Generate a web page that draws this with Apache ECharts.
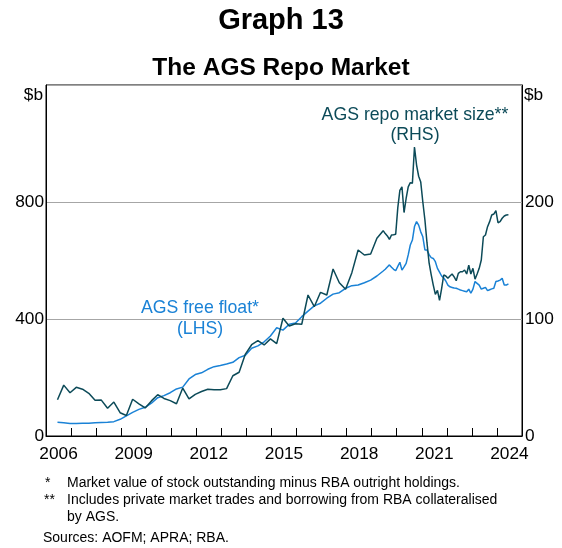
<!DOCTYPE html>
<html>
<head>
<meta charset="utf-8">
<script src="https://cdn.jsdelivr.net/npm/echarts@6/dist/echarts.min.js"></script>
<style>
html,body{margin:0;padding:0;background:#fff;}
#chart{width:562px;height:548px;}
</style>
</head>
<body>
<div id="chart"></div>
<script>
// Year labels (categories on the bottom axis)
const yearLabels = ['2006','2007','2008','2009','2010','2011','2012','2013','2014','2015','2016','2017','2018','2019','2020','2021','2022','2023','2024'];

// Observation dates: quarterly to mid-2019, monthly afterwards
const dates = [
 '2006-06','2006-09','2006-12','2007-03','2007-06','2007-09','2007-12','2008-03','2008-06','2008-09','2008-12',
 '2009-03','2009-06','2009-09','2009-12','2010-03','2010-06','2010-09','2010-12','2011-03','2011-06','2011-09','2011-12',
 '2012-03','2012-06','2012-09','2012-12','2013-03','2013-06','2013-09','2013-12','2014-03','2014-06','2014-09','2014-12',
 '2015-03','2015-06','2015-09','2015-12','2016-03','2016-06','2016-09','2016-12','2017-03','2017-06','2017-09','2017-12',
 '2018-03','2018-06','2018-09','2018-12','2019-03','2019-06',
 '2019-07','2019-08','2019-09','2019-10','2019-11','2019-12',
 '2020-01','2020-02','2020-03','2020-04','2020-05','2020-06','2020-07','2020-08','2020-09','2020-10','2020-11','2020-12',
 '2021-01','2021-02','2021-03','2021-04','2021-05','2021-06','2021-07','2021-08','2021-09','2021-10','2021-11','2021-12',
 '2022-01','2022-02','2022-03','2022-04','2022-05','2022-06','2022-07','2022-08','2022-09','2022-10','2022-11','2022-12',
 '2023-01','2023-02','2023-03','2023-04','2023-05','2023-06','2023-07','2023-08','2023-09','2023-10','2023-11','2023-12',
 '2024-01','2024-02','2024-03','2024-04','2024-05','2024-06'
];

// AGS free float, $b (LHS)
const freeFloat = [
 47,45,43,43,44,44,45,46,47,49,57,
 69,81,91,98,112,131,138,148,161,167,195,210,
 216,228,237,241,246,252,268,276,300,308,322,342,
 370,362,382,386,408,427,445,454,471,485,490,505,
 514,516,524,533,547,564,
 570,578,585,577,570,565,
 580,594,567,578,590,619,653,670,716,733,721,698,
 681,636,636,620,610,607,596,573,560,547,540,530,
 516,510,508,506,505,502,499,497,495,493,502,488,
 502,528,522,516,502,505,508,497,500,503,505,528,
 530,533,539,516,516,520
];

// AGS repo market size, $b (RHS)
const repoSize = [
 31,43.5,37,41.6,40,36.5,30.5,30.7,23.7,29,19.9,
 17.5,31.4,27.5,24,30,35.3,32.1,30.2,27.6,41,31.7,35.6,
 38,39.9,39.5,39.5,40.5,51.5,54.5,70,78,81.5,77.8,83,
 79,100.6,94,96,95.5,120.5,110.5,122.8,120.5,142.7,131,125.4,
 139.6,159,154.7,155.6,169,175.5,
 173,171,168,171.8,172,172.4,
 195,210,213,191,203,213,216.5,216,247,231.6,222,217,
 200,184.6,165,148,138,129,121,124.5,116,126,137.6,136.8,
 134.8,136.8,138.5,136,132.7,139,140.4,140.4,141.9,138.5,145.9,138.5,
 143.3,134,138.5,143.3,150.4,170.3,171.8,178.9,183.2,188.9,189.7,192.6,
 182.3,183.2,186.1,188,188.9,189
];

const leftTicks = [0, 400, 800, 1200];
const rightTicks = [0, 100, 200, 300];

function toYear(d){ const p = d.split('-'); return +p[0] + (+p[1] - 0.5)/12; }

const FONT = 'Arial, "Liberation Sans", sans-serif';
const DARK = '#0c4a58';
const BLUE = '#1a82d6';
const TICKFS = 17.3;
const NOTEFS = 14;
const ANNFS = 17.7;

const chart = echarts.init(document.getElementById('chart'), null, {renderer:'canvas'});
chart.setOption({
  animation:false,
  backgroundColor:'#fff',
  textStyle:{fontFamily:FONT},
  grid:{left:46, right:40, top:85, bottom:112, show:true, borderColor:'#000', borderWidth:1, containLabel:false},
  xAxis:[
    {type:'value', min:2006, max:2025, interval:1,
     axisLine:{show:true, onZero:false, lineStyle:{color:'#000', width:1}},
     axisTick:{show:true, inside:true, length:8, lineStyle:{color:'#000'}},
     axisLabel:{show:false}, splitLine:{show:false}},
    {type:'category', data:yearLabels, boundaryGap:true, position:'bottom',
     axisLine:{show:false}, axisTick:{show:false}, splitLine:{show:false},
     axisLabel:{interval:2, color:'#000', fontSize:TICKFS, fontFamily:FONT, margin:10}}
  ],
  yAxis:[
    {type:'value', min:leftTicks[0], max:leftTicks[3], interval:400, position:'left',
     axisLine:{show:true, lineStyle:{color:'#000'}}, axisTick:{show:false},
     axisLabel:{color:'#000', fontSize:TICKFS, fontFamily:FONT, margin:2, showMaxLabel:false},
     splitLine:{show:true, lineStyle:{color:'#a6a6a6', width:1}}},
    {type:'value', min:rightTicks[0], max:rightTicks[3], interval:100, position:'right',
     axisLine:{show:true, lineStyle:{color:'#000'}}, axisTick:{show:false},
     axisLabel:{color:'#000', fontSize:TICKFS, fontFamily:FONT, margin:3, showMaxLabel:false},
     splitLine:{show:false}}
  ],
  series:[
    {type:'line', name:'AGS free float', xAxisIndex:0, yAxisIndex:0, showSymbol:false,
     lineStyle:{color:BLUE, width:1.5}, itemStyle:{color:BLUE},
     data: dates.map((d,i)=>[toYear(d), freeFloat[i]])},
    {type:'line', name:'AGS repo market size', xAxisIndex:0, yAxisIndex:1, showSymbol:false,
     lineStyle:{color:DARK, width:1.5}, itemStyle:{color:DARK},
     data: dates.map((d,i)=>[toYear(d), repoSize[i]])}
  ],
  graphic:[
    {type:'text', x:281, y:21, style:{text:'Graph 13', font:'bold 29px '+FONT, fill:'#000', align:'center', verticalAlign:'middle'}},
    {type:'text', x:281, y:68, style:{text:'The AGS Repo Market', font:'bold 24.5px '+FONT, fill:'#000', align:'center', verticalAlign:'middle'}},
    {type:'text', x:43, y:95, style:{text:'$b', font:TICKFS+'px '+FONT, fill:'#000', align:'right', verticalAlign:'middle'}},
    {type:'text', x:524, y:95, style:{text:'$b', font:TICKFS+'px '+FONT, fill:'#000', align:'left', verticalAlign:'middle'}},
    {type:'text', x:415, y:115, style:{text:'AGS repo market size**', font:ANNFS+'px '+FONT, fill:DARK, align:'center', verticalAlign:'middle'}},
    {type:'text', x:415, y:135, style:{text:'(RHS)', font:ANNFS+'px '+FONT, fill:DARK, align:'center', verticalAlign:'middle'}},
    {type:'text', x:200, y:308, style:{text:'AGS free float*', font:ANNFS+'px '+FONT, fill:BLUE, align:'center', verticalAlign:'middle'}},
    {type:'text', x:200, y:329, style:{text:'(LHS)', font:ANNFS+'px '+FONT, fill:BLUE, align:'center', verticalAlign:'middle'}},
    {type:'text', x:45, y:483, style:{text:'*', font:NOTEFS+'px '+FONT, fill:'#000', verticalAlign:'middle'}},
    {type:'text', x:67, y:483, style:{text:'Market value of stock outstanding minus RBA outright holdings.', font:NOTEFS+'px '+FONT, fill:'#000', verticalAlign:'middle'}},
    {type:'text', x:44, y:500, style:{text:'**', font:NOTEFS+'px '+FONT, fill:'#000', verticalAlign:'middle'}},
    {type:'text', x:67, y:500, style:{text:'Includes private market trades and borrowing from RBA collateralised', font:NOTEFS+'px '+FONT, fill:'#000', verticalAlign:'middle'}},
    {type:'text', x:67, y:517, style:{text:'by AGS.', font:NOTEFS+'px '+FONT, fill:'#000', verticalAlign:'middle'}},
    {type:'text', x:43, y:538, style:{text:'Sources: AOFM; APRA; RBA.', font:NOTEFS+'px '+FONT, fill:'#000', verticalAlign:'middle'}}
  ]
});
</script>
</body>
</html>
